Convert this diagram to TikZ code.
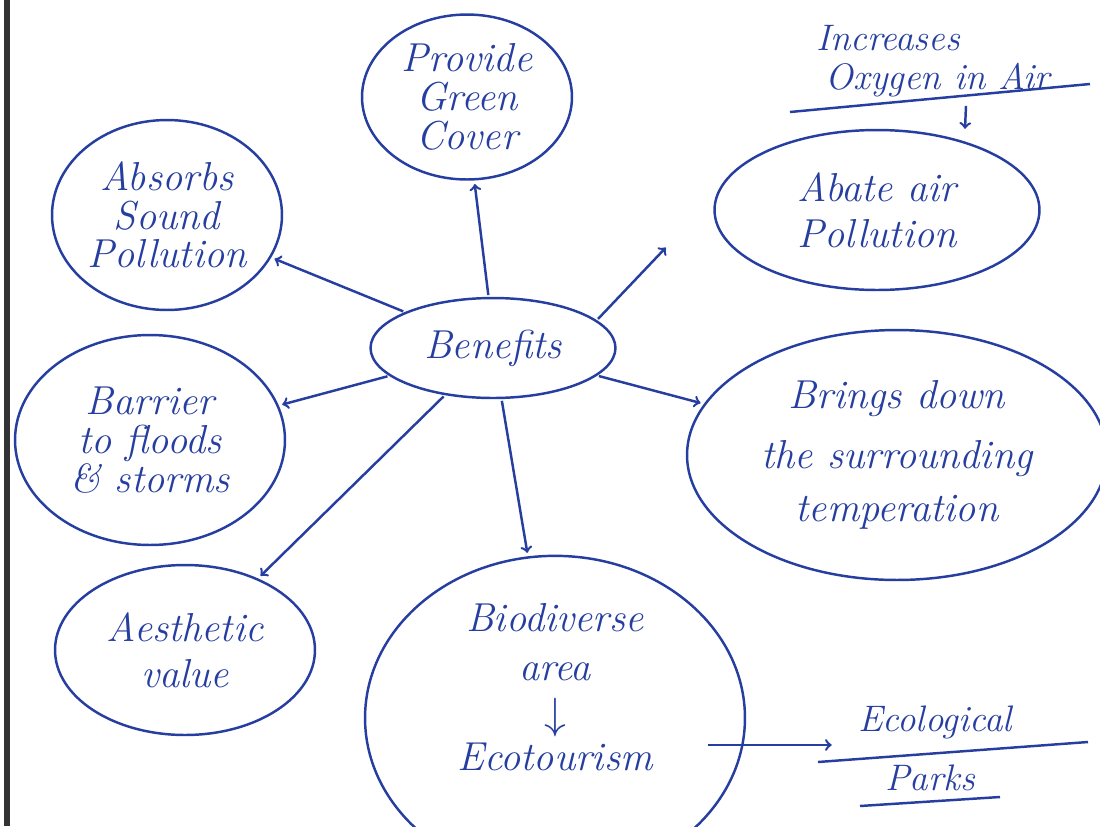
\documentclass[tikz,border=0pt]{standalone}
\usepackage{tikz}
\usetikzlibrary{calc,arrows,shapes.geometric}
\definecolor{ink}{RGB}{38,62,160}

\begin{document}
\begin{tikzpicture}[x=0.02cm,y=-0.02cm,ink,line width=1.4pt,
    bubble/.style={draw,ellipse,inner sep=0pt,align=center,font=\fontsize{23}{22}\selectfont\itshape},
    note/.style={inner sep=1pt,font=\fontsize{21}{24}\selectfont\itshape},
    link/.style={->,shorten >=2pt,shorten <=1pt}]
    \useasboundingbox (0,0) rectangle (1100,826);
    \fill[white] (0,0) rectangle (1100,826);
    \draw[black!80,line width=3pt] (7,0) -- (7,826);
    % centre and the bubbles round it
    \node[bubble,minimum width=4.9cm,minimum height=2cm] (ben) at (493,348) {Benefits};
    \node[bubble,minimum width=4.2cm,minimum height=3.3cm] (green) at (467,97) {Provide\\Green\\Cover};
    \node[bubble,minimum width=4.6cm,minimum height=3.8cm] (sound) at (167,215) {Absorbs\\Sound\\Pollution};
    \node[bubble,minimum width=6.5cm,minimum height=3.2cm] (abate) at (877,210) {Abate air\\[4pt]Pollution};
    \node[bubble,minimum width=5.4cm,minimum height=4.2cm] (barrier) at (150,440) {Barrier\\to floods\\\& storms};
    \node[bubble,minimum width=8.4cm,minimum height=5cm] (temp) at (897,455) {Brings down\\[12pt]the surrounding\\[8pt]temperation};
    \node[bubble,minimum width=5.2cm,minimum height=3.4cm] (aesth) at (185,650) {Aesthetic\\[4pt]value};
    \node[bubble,minimum width=7.6cm,minimum height=5cm,text depth=1.25cm] (bio) at (555,718) {Biodiverse\\[6pt]area\\[5pt]$\downarrow$\\[2pt]Ecotourism};
    % side notes
    \node[note] (incr) at (888,38) {Increases};
    \node[note] (oxy) at (938,80) {Oxygen in Air};
    \draw (790,112) -- (1090,84);
    \node[note] (eco) at (935,722) {Ecological};
    \node[note] (parks) at (930,778) {Parks};
    \draw (818,762) -- (1088,742);
    \draw (860,806) -- (1000,797);
    % arrows
    \coordinate (a1) at ($(abate.west)+(-45,35)$);
    \draw[link] (ben.95) -- (green.275);
    \draw[link] (ben) -- (sound);
    \draw[link] (ben.15) -- (a1);
    \draw[link] (ben) -- (barrier);
    \draw[link] (ben) -- (temp);
    \draw[link] (ben) -- (aesth);
    \draw[link] (ben) -- (bio);
    \draw[->] ($(oxy.south)+(28,6)$) coordinate (o1) -- ($(abate.north)+(88,0)$);
    \draw[link] ($(bio.east)+(-40,27)$) coordinate (b1) -- ($(eco.west|-b1)+(-20,0)$);
\end{tikzpicture}
\end{document}
